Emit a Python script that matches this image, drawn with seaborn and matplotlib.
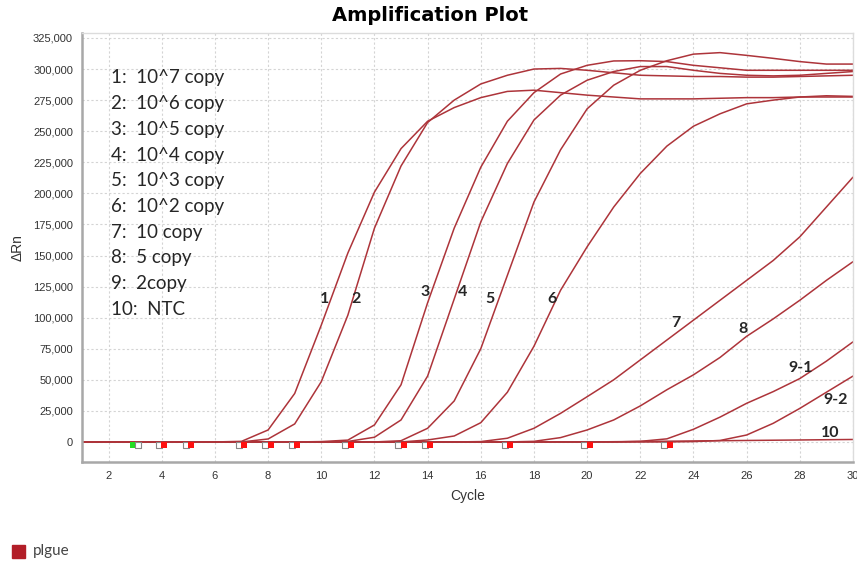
import numpy as np
import pandas as pd
import seaborn as sns
import matplotlib.pyplot as plt

sns.set_style('white')

cycles = list(range(1, 31))

# delta Rn per cycle
curve1 = [0, 0, 0, 0, 0, 0, 500, 9650, 39000, 94000, 152000, 201000, 236000, 258000, 269000,
          277000, 282000, 283000, 281000, 279000, 277500, 276000, 276000, 276000, 276500,
          277000, 277000, 277500, 277500, 277500]
curve2 = [0, 0, 0, 0, 0, 0, 0, 2400, 14500, 48500, 102000, 172000, 222000, 257000, 275000,
          288000, 295000, 300000, 300500, 299000, 297000, 295000, 294500, 294000, 294000,
          293500, 293500, 294000, 294500, 295000]
curve3 = [0, 0, 0, 0, 0, 0, 0, 0, 0, 300, 1500, 13700, 46000, 112000, 172000, 221000, 258000,
          281000, 296000, 303000, 306500, 306700, 306000, 303000, 301000, 299000, 299000,
          299000, 299000, 299000]
curve4 = [0] * 10 + [400, 3800, 17700, 53000, 115000, 177000, 224000, 259000, 279000, 291000,
                     298000, 302000, 302000, 299000, 296500, 295000, 294500, 295000, 296500, 298000]
curve5 = [0] * 12 + [1000, 11000, 33000, 75000, 134000, 193000, 235000, 268000, 287000, 299000,
                     306700, 312000, 313200, 311000, 308600, 306000, 304000, 304000]
curve6 = [0] * 13 + [1600, 4800, 15500, 40000, 77000, 122000, 157000, 189000, 216000, 238000,
                     254000, 264000, 272000, 275000, 277500, 278500, 278000]
curve7 = [0] * 15 + [300, 3000, 11000, 23000, 36400, 50000, 66000, 82000, 98000, 114000,
                     130000, 146000, 165000, 189000, 213000]
curve8 = [0] * 17 + [500, 3500, 9650, 17700, 29000, 42000, 54000, 68000, 85000, 99000, 114000,
                     130000, 145000]
curve9_1 = [0] * 21 + [500, 2500, 10200, 20000, 31100, 40500, 51000, 65000, 80500]
curve9_2 = [0] * 23 + [300, 1200, 5600, 15000, 27000, 40000, 53000]
ntc = [0] * 20 + [200, 400, 600, 800, 1000, 1200, 1400, 1600, 1800, 2000]

wells = {'1': curve1, '2': curve2, '3': curve3, '4': curve4, '5': curve5, '6': curve6,
         '7': curve7, '8': curve8, '9-1': curve9_1, '9-2': curve9_2, '10': ntc}

# curve labels and where they sit (cycle, delta Rn)
label_names = ['1', '2', '3', '4', '5', '6', '7', '8', '9-1', '9-2', '10']
label_x = [10.12, 11.32, 13.91, 15.30, 16.36, 18.69, 23.35, 25.87, 28.02, 29.33, 29.14]
label_y = [115000, 115000, 121000, 121000, 115000, 115000, 95700, 91000, 59500, 33800, 7200]

legend_lines = ['1:  10^7 copy', '2:  10^6 copy', '3:  10^5 copy', '4:  10^4 copy',
                '5:  10^3 copy', '6:  10^2 copy', '7:  10 copy', '8:  5 copy',
                '9:  2copy', '10:  NTC']

# baseline start/end markers
green_cycle = [3]
marker_cycles = [4, 5, 7, 8, 9, 11, 13, 14, 17, 20, 23]

rows = []
for name, vals in wells.items():
    for c, v in zip(cycles, vals):
        rows.append({'well': name, 'cycle': c, 'rn': v})
df = pd.DataFrame(rows)

fig = plt.figure(figsize=(8.57, 5.64), dpi=100)
ax = fig.add_axes([0.0957, 0.1809, 0.8996, 0.7606])

line_col = '#ad343a'
sns.lineplot(data=df, x='cycle', y='rn', units='well', estimator=None,
             color=line_col, linewidth=1.1, ax=ax)

# markers on the baseline
mk_y = -2400
ax.scatter(np.array(green_cycle) - 0.1, [mk_y] * len(green_cycle), marker='s', s=24,
           color='#22dd22', zorder=5, linewidths=0)
ax.scatter(np.array(green_cycle) + 0.1, [mk_y] * len(green_cycle), marker='s', s=18,
           facecolor='white', edgecolor='#888888', linewidths=0.8, zorder=5)
ax.scatter(np.array(marker_cycles) - 0.1, [mk_y] * len(marker_cycles), marker='s', s=18,
           facecolor='white', edgecolor='#888888', linewidths=0.8, zorder=5)
ax.scatter(np.array(marker_cycles) + 0.1, [mk_y] * len(marker_cycles), marker='s', s=24,
           color='#ff1010', zorder=5, linewidths=0)

ax.set_xlim(1, 30)
ax.set_ylim(-16100, 329000)
ax.set_xticks(range(2, 31, 2))
ax.set_yticks(range(0, 325001, 25000))
ax.set_yticklabels([f'{v:,}' for v in range(0, 325001, 25000)])
ax.grid(True, color='#d4d4d4', linestyle=(0, (2, 2)), linewidth=0.8)
ax.tick_params(axis='both', labelsize=8, colors='#333333', length=3, width=0.8)
for lab in ax.get_xticklabels() + ax.get_yticklabels():
    lab.set_family('Liberation Sans')
for side in ['left', 'bottom']:
    ax.spines[side].set_color('#a8a8a8')
    ax.spines[side].set_linewidth(1.8)
for side in ['top', 'right']:
    ax.spines[side].set_color('#dcdcdc')
    ax.spines[side].set_linewidth(1.0)

ax.set_xlabel('Cycle', fontsize=10, color='#333333', family='Liberation Sans', labelpad=6)
ax.set_ylabel('ΔRn', fontsize=10, color='#333333', family='Liberation Sans', labelpad=6)
fig.text(0.502, 0.972, 'Amplification Plot', ha='center', va='center', fontsize=14,
         fontweight='bold', family='DejaVu Sans', color='black')

for i, t in enumerate(legend_lines):
    ax.text(2.08, 292800 - i * 20670, t, fontsize=13.5, family='Lato', va='center', ha='left')

for n, x, y in zip(label_names, label_x, label_y):
    ax.text(x, y, n, fontsize=11.5, fontweight='bold', family='Lato', ha='center', va='center')

# series legend at the bottom left
fig.patches.append(plt.Rectangle((12 / 857, 1 - 558 / 564), 13 / 857, 13 / 564,
                                 transform=fig.transFigure, color='#b21e28'))
fig.text(33 / 857, 1 - 551 / 564, 'plgue', fontsize=11, color='#444444', family='Lato',
         va='center', ha='left')

fig.savefig('out.png', dpi=100)
